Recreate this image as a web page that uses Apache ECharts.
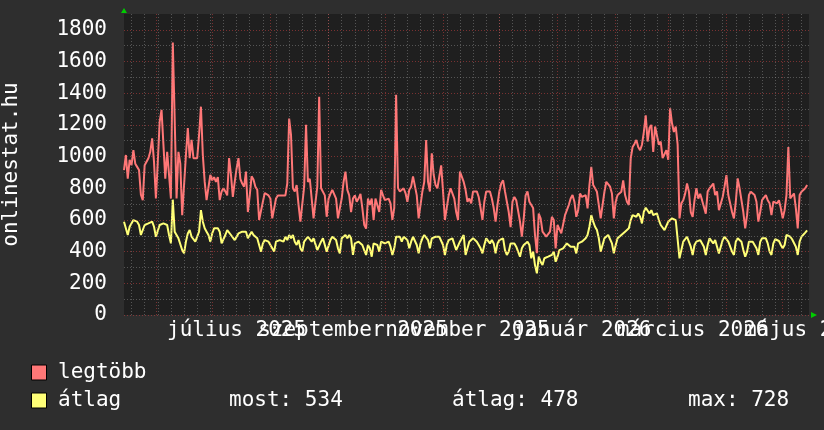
<!DOCTYPE html>
<html><head><meta charset="utf-8">
<script src="https://cdn.jsdelivr.net/npm/echarts/dist/echarts.min.js"></script>
<style>html,body{margin:0;padding:0;background:#2e2e2e;}#c{width:824px;height:430px;}</style>
</head><body><div id="c"></div>
<script>
// ---- data (daily values from 2025-05-15) ----
const seriesStart = '2025-05-15';
const axisStart = '2025-05-15';
const axisEnd = '2026-05-15';
const legtobb = [
915,1010,860,980,945,1040,955,935,915,760,
725,945,935,990,1030,1115,965,735,965,1220,
1295,1305,860,1030,885,735,1720,1240,735,1030,
955,630,620,1010,1180,990,1105,990,980,990,
1135,1315,1010,840,725,735,885,850,870,840,
870,725,780,800,780,755,990,885,745,840,
925,990,860,830,810,905,650,755,875,855,
810,790,600,590,715,770,780,755,735,610,
620,735,755,745,755,755,755,830,1240,1135,
800,780,820,695,590,600,810,1200,840,860,
860,610,610,810,1377,800,810,755,620,735,
765,790,780,735,610,610,735,840,905,790,
755,650,735,755,715,735,765,675,570,545,
735,695,735,600,735,725,650,790,755,725,
735,735,705,600,675,1390,800,780,790,800,
770,715,790,810,875,885,755,610,610,780,
840,1105,840,780,1020,885,820,800,790,945,
780,600,600,755,800,810,735,650,600,905,
895,840,790,715,735,705,780,780,780,745,
675,600,715,780,790,780,735,675,590,695,
780,830,850,780,715,650,555,715,745,725,
735,590,495,610,755,780,715,705,675,505,
390,640,610,526,515,495,484,526,620,600,
420,568,557,515,505,630,662,694,736,757,
715,620,662,767,745,757,757,673,820,935,
820,800,778,778,610,610,778,841,830,810,
767,610,715,757,767,778,850,757,715,694,
988,1060,1080,1105,1060,1040,1075,1155,1260,1095,
1180,1200,1030,1190,1200,1075,1095,990,980,1040,
980,1305,1210,1155,1190,1075,610,705,725,765,
830,780,650,620,725,800,735,765,725,715,
640,780,800,810,830,757,780,662,673,745,
810,883,757,767,650,610,715,862,800,790,
650,547,630,757,778,767,757,715,590,650,
725,736,757,725,705,631,715,715,705,725,
673,610,662,757,1060,736,745,767,673,547,
757,778,790,800,820
];
const atlag = [
589,578,505,557,557,599,589,589,568,505,
494,568,578,578,578,589,557,494,494,568,
568,578,568,568,505,452,728,526,515,484,
473,410,389,463,515,536,494,505,463,452,
526,662,589,547,526,505,463,515,547,536,
547,526,452,452,505,536,526,505,505,473,
484,515,515,526,515,526,484,494,526,505,
494,484,442,400,452,473,473,463,473,421,
400,463,473,473,484,463,494,473,505,484,
505,463,442,473,421,400,463,473,494,484,
463,484,473,410,400,463,484,494,400,389,
473,494,484,473,421,389,484,494,505,484,
505,484,379,452,463,463,452,442,410,379,
442,421,368,452,463,442,400,463,452,452,
452,463,431,379,421,494,505,494,463,494,
505,473,421,463,494,505,442,389,452,484,
505,494,473,421,484,494,494,484,494,484,
442,379,442,473,463,484,473,410,410,463,
484,505,379,368,463,463,484,473,463,442,
421,389,442,484,473,452,473,452,389,452,
473,463,484,410,379,400,452,442,452,431,
400,368,421,442,452,463,442,358,400,315,
263,368,336,315,358,347,368,379,379,400,
336,368,410,410,421,431,452,442,431,431,
431,389,452,452,463,473,484,505,557,631,
589,557,536,484,400,400,484,494,505,494,
452,389,442,484,494,505,505,526,515,547,
599,631,631,620,641,620,578,652,677,673,
641,662,631,631,641,599,568,568,536,547,
589,599,610,599,599,599,358,368,463,463,
494,484,431,379,442,463,473,473,463,431,
379,442,484,473,452,473,431,389,400,473,
494,484,463,431,400,379,463,484,473,463,
410,368,400,463,473,463,473,421,379,463,
484,484,484,452,400,379,452,478,473,467,
442,421,442,505,505,494,478,473,431,379,
463,494,505,520,534
];
const monthStarts = ['2025-06-01','2025-07-01','2025-08-01','2025-09-01','2025-10-01','2025-11-01',
  '2025-12-01','2026-01-01','2026-02-01','2026-03-01','2026-04-01','2026-05-01'];
const firstMonday = '2025-05-19';
const xLabelMonths = ['2025-07-01','2025-09-01','2025-11-01','2026-01-01','2026-03-01','2026-05-01'];
const xLabelTexts = ['július 2025','szeptember 2025','november 2025','január 2026','március 2026','május 2026'];
const yMax = 1900;
const yLabelStep = 200;
const yMinorStep = 100;
const seriesNames = ['legtöbb','átlag'];
const seriesColors = ['#ff7777','#ffff77'];
const yTitle = 'onlinestat.hu';
const statMost = 534, statAtlag = 478, statMax = 728;

// ---- helpers ----
const DAY = 86400000;
const ts = s => Date.parse(s + 'T00:00:00Z');
const t0 = ts(seriesStart);
const toPairs = arr => arr.map((v, i) => [t0 + i * DAY, v]);
const FONT = '"DejaVu Sans Mono", monospace';

const gridLines = [];
const minorCol = 'rgba(150,150,150,0.45)';
const majorCol = 'rgba(230,70,70,0.45)';
for (let t = ts(firstMonday); t < ts(axisEnd); t += 7 * DAY) {
  gridLines.push({xAxis: t, lineStyle: {color: minorCol, type: [1, 2], width: 1}});
}
monthStarts.forEach(m => gridLines.push({xAxis: ts(m), lineStyle: {color: majorCol, type: [1, 2], width: 1}}));
for (let v = yMinorStep; v < yMax; v += yLabelStep) {
  gridLines.push({yAxis: v, lineStyle: {color: minorCol, type: [1, 2], width: 1}});
}
for (let v = 0; v < yMax; v += yLabelStep) {
  gridLines.push({yAxis: v, lineStyle: {color: majorCol, type: [1, 2], width: 1}});
}

const chart = echarts.init(document.getElementById('c'), null, {renderer: 'canvas'});
chart.setOption({
  backgroundColor: '#2e2e2e',
  animation: false,
  grid: {left: 124, right: 15, top: 14, bottom: 115, show: true, backgroundColor: '#1f1f1f', borderWidth: 0, outerBoundsMode: 'none', containLabel: false},
  xAxis: {type: 'time', min: ts(axisStart), max: ts(axisEnd), axisLabel: {show: false}, axisTick: {show: false},
    axisLine: {show: false}, splitLine: {show: false}},
  yAxis: {type: 'value', min: 0, max: yMax, interval: yLabelStep,
    axisLabel: {color: '#ffffff', fontFamily: FONT, fontSize: 21, margin: 17, showMaxLabel: false,
      formatter: v => (v % yLabelStep === 0 && v < yMax) ? String(v) : ''},
    axisTick: {show: false}, axisLine: {show: false}, splitLine: {show: false}},
  series: [
    {type: 'line', name: 'grid', data: [], silent: true, z: 1,
      markLine: {silent: true, symbol: 'none', label: {show: false}, animation: false, data: gridLines}},
    {type: 'line', name: seriesNames[0], data: toPairs(legtobb), showSymbol: false, z: 3,
      lineStyle: {color: seriesColors[0], width: 2}, itemStyle: {color: seriesColors[0]}},
    {type: 'line', name: seriesNames[1], data: toPairs(atlag), showSymbol: false, z: 4,
      lineStyle: {color: seriesColors[1], width: 2}, itemStyle: {color: seriesColors[1]}}
  ]
});

const px = (t, v) => chart.convertToPixel({gridIndex: 0}, [t, v]);
const graphics = [];
xLabelMonths.forEach((m, i) => {
  const p = px(ts(m) + 13 * DAY, 0);
  graphics.push({type: 'text', x: p[0], y: p[1] + 16, z: 10,
    style: {text: xLabelTexts[i], fill: '#ffffff', font: '21px ' + FONT, align: 'center', verticalAlign: 'middle'}});
});
const topLeft = px(ts(axisStart), yMax);
const botRight = px(ts(axisEnd), 0);
graphics.push({type: 'polygon', z: 10, shape: {points: [[topLeft[0] - 3, topLeft[1] - 1], [topLeft[0] + 3, topLeft[1] - 1], [topLeft[0], topLeft[1] - 6]]}, style: {fill: '#00cc00'}});
graphics.push({type: 'polygon', z: 10, shape: {points: [[botRight[0] + 2, botRight[1] - 3], [botRight[0] + 2, botRight[1] + 3], [botRight[0] + 8, botRight[1]]]}, style: {fill: '#00cc00'}});
const midY = (topLeft[1] + botRight[1]) / 2;
graphics.push({type: 'text', x: 12, y: midY, rotation: Math.PI / 2, z: 10,
  style: {text: yTitle, fill: '#ffffff', font: '21px ' + FONT, align: 'center', verticalAlign: 'middle'}});
// legend
const legendRows = [373, 401];
seriesNames.forEach((n, i) => {
  graphics.push({type: 'rect', z: 10, shape: {x: 31.5, y: legendRows[i] - 8, width: 15, height: 15},
    style: {fill: seriesColors[i], stroke: '#000000', lineWidth: 1}});
  graphics.push({type: 'text', z: 10, x: 58, y: legendRows[i],
    style: {text: n, fill: '#ffffff', font: '21px ' + FONT, align: 'left', verticalAlign: 'middle'}});
});
[['most: ' + statMost, 229], ['átlag: ' + statAtlag, 452], ['max: ' + statMax, 688]].forEach(s => {
  graphics.push({type: 'text', z: 10, x: s[1], y: legendRows[1],
    style: {text: s[0], fill: '#ffffff', font: '21px ' + FONT, align: 'left', verticalAlign: 'middle'}});
});
chart.setOption({graphic: graphics});
</script></body></html>
